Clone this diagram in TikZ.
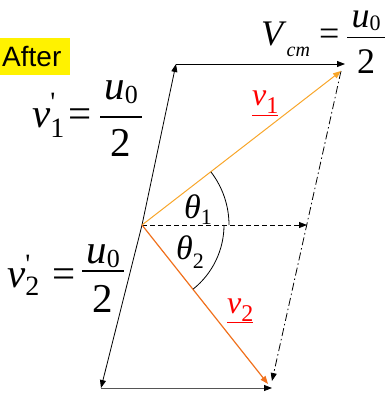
\documentclass[tikz,border=0pt]{standalone}
\usepackage{fontspec}
\setmainfont{Liberation Serif}
\newfontfamily\arialfont{Liberation Sans}
\usetikzlibrary{arrows.meta}
\definecolor{vone}{RGB}{248,166,42}
\definecolor{vtwo}{RGB}{240,112,28}
\definecolor{hl}{RGB}{255,242,0}
\definecolor{gline}{RGB}{85,85,85}
\newcommand{\fs}[1]{\fontsize{#1}{#1}\selectfont}
\newcommand{\lowr}[3]{\raisebox{-#1}{\fs{#2}#3}}
\newcommand{\myfrac}[7]{\rlap{\rule[#2]{#1}{#7}}\rlap{\makebox[#1]{\raisebox{#3}{#4}}}\makebox[#1]{\raisebox{-#5}{#6}}}
\tikzset{
  lbl/.style={inner sep=0pt, anchor=base west},
  thinln/.style={line width=0.8pt},
  tip/.style={-{Triangle[length=8pt,width=6pt]}},
}
\begin{document}
\begin{tikzpicture}[x=1pt,y=-1pt]
\useasboundingbox (0,0) rectangle (386,395);
% points
\coordinate (O) at (142,225);
\coordinate (TL) at (176,64);
\coordinate (TR) at (345,64);
\coordinate (BL) at (101,388);
\coordinate (BR) at (272,388);
\coordinate (V1) at (341,71);
\coordinate (V2) at (268,384);
\coordinate (DD) at (272,381);
\coordinate (H) at (307,225);
\coordinate (A1) at (229,225);
\coordinate (A2) at (224,225);
% lines
\draw[thinln, tip] (O) -- (TL);
\draw[thinln, tip] (TL) -- (TR);
\draw[thinln, tip] (O) -- (BL);
\draw[thinln, gline, -{Triangle[length=8pt,width=6pt,black]}] (BL) -- (BR);
\draw[thinln, dash pattern=on 5pt off 3pt, tip] (O) -- (H);
\draw[thinln, dash pattern=on 8pt off 3pt on 1.5pt off 3pt, tip] (V1) -- (DD);
\draw[vone, line width=1pt, tip] (O) -- (V1);
\draw[vtwo, line width=1.2pt, tip] (O) -- (V2);
% angle arcs
\draw[thinln] (A1) arc[start angle=0, end angle=-37.7, radius=87];
\draw[thinln] (A2) arc[start angle=0, end angle=51.4, radius=82];
% labels
\node[fill=hl, anchor=north west, minimum height=37pt, inner xsep=2pt, inner ysep=0pt, text width=66pt, align=left, font=\arialfont\fs{28}] (after) at (0,38) {After};
\node[lbl, font=\fs{36}] (vcm) at (261,46) {\makebox[58pt][l]{\textit{V}\lowr{11pt}{20}{\textit{cm}}}\makebox[28pt][l]{=}\myfrac{38pt}{7.5pt}{18pt}{\textit{u}\lowr{3pt}{22}{0}}{28pt}{2}{1.5pt}};
\node[lbl, font=\fs{41}] (v1p) at (32,128) {\makebox[36pt][l]{\textit{v}\rlap{\raisebox{16pt}{\fs{28}\textquotesingle}}\lowr{10pt}{28}{1}}\makebox[32pt][l]{=}\myfrac{42pt}{10.2pt}{28pt}{\textit{u}\lowr{4pt}{26}{0}}{29pt}{2}{1.6pt}};
\node[lbl, font=\fs{41}] (v2p) at (7,287) {\makebox[45pt][l]{\textit{v}\rlap{\raisebox{14pt}{\fs{28}\textquotesingle}}\lowr{8pt}{28}{2}}\makebox[30pt][l]{=}\myfrac{42pt}{15.2pt}{24pt}{\textit{u}\lowr{4pt}{26}{0}}{25pt}{2}{1.6pt}};
\node[lbl, font=\fs{34}] (t1) at (184,218) {\textit{θ}\lowr{6pt}{22}{1}};
\node[lbl, font=\fs{34}] (t2) at (176,259) {\textit{θ}\lowr{9pt}{22}{2}};
\node[lbl, font=\fs{32}, text=red] (r1) at (252,106) {\textit{v}\lowr{8pt}{24}{1}\llap{\rule[-10pt]{26pt}{1.4pt}}};
\node[lbl, font=\fs{32}, text=red] (r2) at (227,313) {\textit{v}\lowr{8pt}{24}{2}\llap{\rule[-10pt]{26pt}{1.4pt}}};
\end{tikzpicture}
\end{document}
